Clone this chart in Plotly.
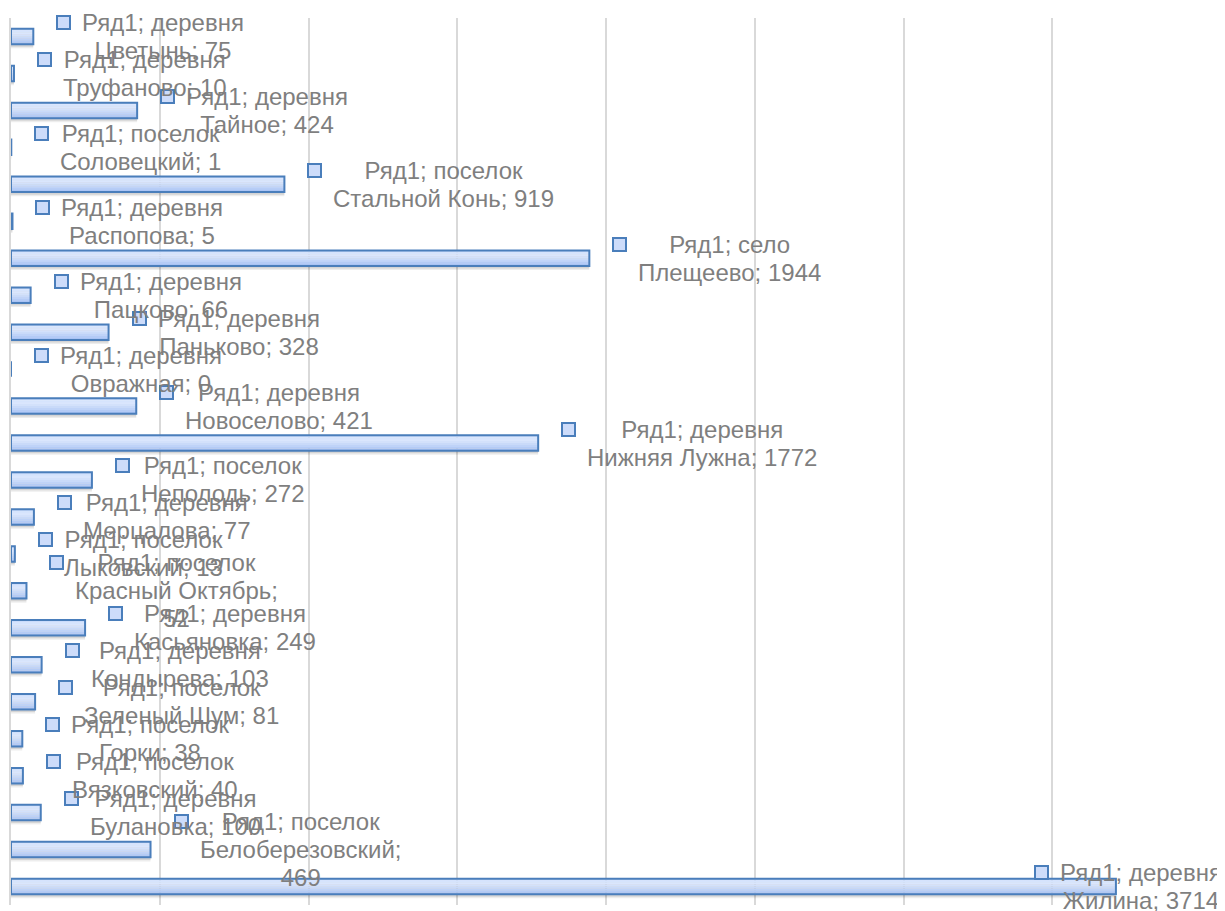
import plotly.graph_objects as go

# ---------------- data ----------------
series_name = "Ряд1"
settlement_types = [
    "деревня", "поселок", "деревня", "поселок", "поселок", "поселок",
    "деревня", "деревня", "поселок", "поселок", "деревня", "поселок",
    "деревня", "деревня", "деревня", "деревня", "деревня", "село",
    "деревня", "поселок", "поселок", "деревня", "деревня", "деревня",
]
settlement_names = [
    "Жилина", "Белоберезовский", "Булановка", "Вязковский", "Горки", "Зеленый Шум",
    "Кондырева", "Касьяновка", "Красный Октябрь", "Лыковский", "Мерцалова", "Неполодь",
    "Нижняя Лужна", "Новоселово", "Овражная", "Паньково", "Пацково", "Плещеево",
    "Распопова", "Стальной Конь", "Соловецкий", "Тайное", "Труфаново", "Цветынь",
]
populations = [
    3714, 469, 100, 40, 38, 81,
    103, 249, 52, 13, 77, 272,
    1772, 421, 0, 328, 66, 1944,
    5, 919, 1, 424, 10, 75,
]

categories = [f"{t} {n}" for t, n in zip(settlement_types, settlement_names)]

# ---------------- style ----------------
FONT = "Liberation Sans, Arial, sans-serif"
TEXT_COLOR = "#7f7f7f"
GRID = "#d9d9d9"
BORDER = "#4a7ebb"
BAR_W = 0.42
XMAX = 4000
# bottom -> top gradient stops of the bar fill
grad = ["#a9c3f4", "#b4cbf6", "#bfd3f8", "#c9daf9", "#d3e1fb", "#dae6fd", "#d6e4fd", "#cbdcfb"]

fig = go.Figure()

# soft shadow below bars
for k, a in [(0.11, 0.07), (0.07, 0.10)]:
    fig.add_trace(go.Bar(
        x=populations, y=categories, orientation="h",
        width=BAR_W, offset=-BAR_W / 2 - k,
        marker=dict(color=f"rgba(0,0,0,{a})", line=dict(width=0)),
        hoverinfo="skip", showlegend=False,
    ))

# gradient fill built from thin slices
n = len(grad)
for i, c in enumerate(grad):
    fig.add_trace(go.Bar(
        x=populations, y=categories, orientation="h",
        width=BAR_W / n + 0.002, offset=-BAR_W / 2 + i * BAR_W / n,
        marker=dict(color=c, line=dict(width=0)),
        hoverinfo="skip", showlegend=False,
    ))

# border
fig.add_trace(go.Bar(
    x=populations, y=categories, orientation="h", name=series_name,
    width=BAR_W, offset=-BAR_W / 2,
    marker=dict(color="rgba(0,0,0,0)", line=dict(color=BORDER, width=2)),
    showlegend=False,
))

# ---------------- data labels ----------------
OVERFLOW_SHIFT = {"деревня Жилина": -105}
annotations = []
for cat, t, nm, v in zip(categories, settlement_types, settlement_names, populations):
    line2 = f"{nm}; {v}"
    if len(line2) > 18:
        line2 = f"{nm};<br>{v}"
    raw = f"{series_name}; {t}<br>{line2}"
    nlines = raw.count("<br>") + 1
    # base size sets the line spacing (~28px), inner span sets glyph size (24px)
    text = "<br>".join(f"<span style='font-size:24px'>{ln}</span>" for ln in raw.split("<br>"))
    extra = OVERFLOW_SHIFT.get(cat, 0)
    # legend key square
    annotations.append(dict(
        x=v, y=cat, xref="x", yref="y", text=" ", showarrow=False,
        xanchor="left", yanchor="middle", xshift=23 + extra, yshift=14 * (nlines - 1),
        width=11, height=11, bgcolor="#cddcfa", bordercolor=BORDER,
        borderwidth=2, borderpad=0, font=dict(size=6),
    ))
    annotations.append(dict(
        x=v, y=cat, xref="x", yref="y", text=text, showarrow=False,
        xanchor="left", yanchor="middle", align="center",
        xshift=47 + extra, yshift=0,
        font=dict(family=FONT, size=21.5, color=TEXT_COLOR),
    ))

fig.update_layout(
    width=1225, height=911,
    margin=dict(l=3, r=32, t=10, b=14),
    paper_bgcolor="white", plot_bgcolor="white",
    barmode="overlay", bargap=0.58,
    showlegend=False,
    annotations=annotations,
    font=dict(family=FONT, color=TEXT_COLOR),
    xaxis=dict(
        range=[0, XMAX], dtick=500, showgrid=True, gridcolor=GRID, gridwidth=1.5,
        showticklabels=False, zeroline=False, showline=False, ticks="",
        fixedrange=True,
    ),
    yaxis=dict(
        type="category", categoryorder="array", categoryarray=categories,
        showticklabels=False, showgrid=False, zeroline=False,
        showline=True, linecolor=GRID, linewidth=1.5, ticks="",
        range=[-0.5, len(categories) - 0.5],
    ),
)

fig.write_html("out.html")
